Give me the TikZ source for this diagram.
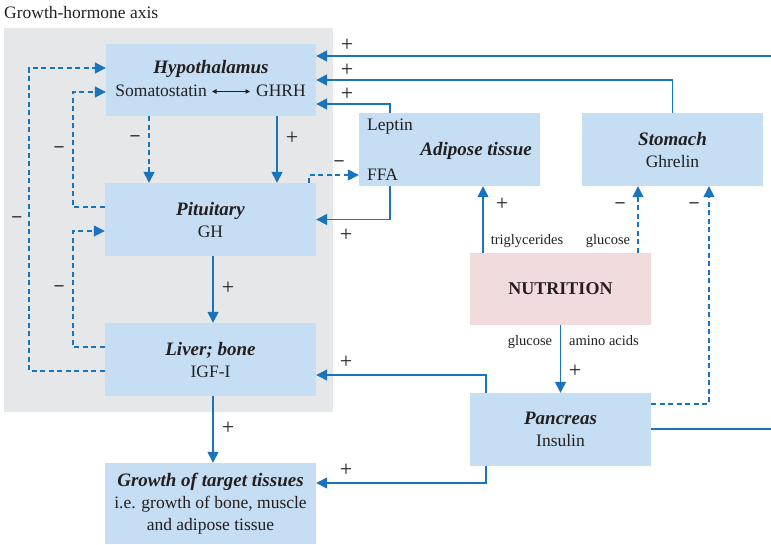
\documentclass[tikz,border=0pt]{standalone}
\usepackage{fontspec}
\setmainfont{Liberation Serif}
\usetikzlibrary{arrows.meta}
\definecolor{boxblue}{HTML}{C6DEF3}
\definecolor{panelgrey}{HTML}{E6E7E8}
\definecolor{nutpink}{HTML}{F2DBDC}
\definecolor{linkblue}{HTML}{1A74BD}
\definecolor{inktext}{HTML}{231F20}
\newcommand\txtmain{\fontsize{17.5}{22}\selectfont}
\newcommand\txttitle{\fontsize{19}{22}\selectfont\bfseries\itshape}
\newcommand\txtsmall{\fontsize{14.5}{17}\selectfont}
\begin{document}
\begin{tikzpicture}[x=1pt,y=-1pt,
  organ/.style={fill=boxblue, draw=none, inner sep=0pt, align=center,
                text=inktext, font=\txtmain},
  wire/.style={draw=linkblue, line width=1.4pt},
  arr/.style={wire, -{Triangle[length=11pt,width=11pt]}},
  darr/.style={arr, dash pattern=on 5pt off 3.5pt},
  plus/.style={inner sep=0pt, font=\fontsize{22}{22}\selectfont, text=inktext},
  minus/.style={inner sep=0pt, font=\fontsize{18}{22}\selectfont\bfseries, text=inktext},
  lbl/.style={inner sep=0pt, font=\txtsmall, text=inktext, anchor=base}]
\useasboundingbox (0,0) rectangle (771,545);

% growth-hormone axis panel
\node[anchor=base west, inner sep=0pt, font=\txtmain, text=inktext] (ttl) at (4,19) {Growth-hormone axis};
\fill[panelgrey] (4,28) rectangle (333,412);

% organ boxes
\node[organ, minimum width=210pt, minimum height=72pt] (hyp) at (211,80) {};
\node[inner sep=0pt, font=\txttitle, text=inktext] (hyptitle) at (211,69) {Hypothalamus};
\node[inner sep=0pt, font=\txtmain, text=inktext, anchor=base east] (som) at (207,97) {Somatostatin};
\node[inner sep=0pt, font=\txtmain, text=inktext, anchor=base west] (ghrh) at (256,97) {GHRH};
\draw[draw=inktext, line width=0.8pt, {Triangle[length=4.5pt,width=4.5pt]}-{Triangle[length=4.5pt,width=4.5pt]}]
  ([xshift=5pt,yshift=5.5pt]som.base east) -- ([xshift=-6pt,yshift=5.5pt]ghrh.base west);

\node[organ, minimum width=211pt, minimum height=73pt] (pit) at (210.5,219.5)
  {{\txttitle Pituitary}\\GH};
\node[organ, minimum width=211pt, minimum height=73pt] (liv) at (210.5,359.5)
  {{\txttitle Liver; bone}\\IGF-I};
\node[organ, minimum width=211pt, minimum height=81pt] (gro) at (210.5,503.5)
  {{\txttitle Growth of target tissues}\\i.e. growth of bone, muscle\\and adipose tissue};

\node[organ, minimum width=181pt, minimum height=73pt] (adi) at (449.5,149.5) {};
\node[inner sep=0pt, font=\txtmain, text=inktext, anchor=base west] (lep) at (367,131) {Leptin};
\node[inner sep=0pt, font=\txttitle, text=inktext, anchor=base east] (aditl) at (532,156) {Adipose tissue};
\node[inner sep=0pt, font=\txtmain, text=inktext, anchor=base west] (ffa) at (367,181) {FFA};

\node[organ, minimum width=181pt, minimum height=73pt] (sto) at (672.5,149.5)
  {{\txttitle Stomach}\\Ghrelin};
\node[organ, fill=nutpink, minimum width=181pt, minimum height=72pt] (nut) at (560.5,289)
  {\fontsize{18}{22}\selectfont\bfseries NUTRITION};
\node[organ, minimum width=181pt, minimum height=73pt] (pan) at (560.5,429.5)
  {{\txttitle Pancreas}\\Insulin};

% helper points for routing
\coordinate (rTop) at (771,56);
\coordinate (rPan) at (771,429);
\coordinate (lepX) at (390,104);
\coordinate (ffaD) at (309,175);
\coordinate (hpS) at (277,0);
\coordinate (hpD) at (149,0);
\coordinate (axX) at (213,0);
\coordinate (panX) at (486,375);
\coordinate (panG) at (486,483);
\coordinate (panD) at (709,404);
\coordinate (gluX) at (638,0);
\coordinate (triX) at (483,0);
\coordinate (fbOut) at (29,371);
\coordinate (fbOutT) at (0,68);
\coordinate (fbA) at (73,207);
\coordinate (fbAT) at (0,92);
\coordinate (fbB) at (73,347);
\coordinate (fbBT) at (0,231);

% stimulating connections
\draw[arr] (rTop) -- (rTop -| hyp.east);
\draw[arr] (sto.north) |- (hyp.east);
\draw[arr] (adi.north -| lepX) |- (hyp.east |- lepX);
\draw[arr] (adi.south -| lepX) |- (pit.east);
\draw[arr] (hyp.south -| hpS) -- (pit.north -| hpS);
\draw[arr] (pit.south -| axX) -- (liv.north -| axX);
\draw[arr] (liv.south -| axX) -- (gro.north -| axX);
\draw[arr] (pan.north -| panX) |- (liv.east |- panX);
\draw[arr] (pan.south -| panG) |- (gro.east |- panG);
\draw[linkblue, line width=1.4pt] (pan.east |- rPan) -- (rPan);
\draw[arr] (nut.north -| triX) -- (adi.south -| triX);
\draw[arr] (nut.south) -- (pan.north);

% inhibiting connections
\draw[darr] (pit.north -| ffaD) |- (adi.west |- ffaD);
\draw[darr] (hyp.south -| hpD) -- (pit.north -| hpD);
\draw[darr] (pan.east |- panD) -| (sto.south -| panD);
\draw[darr] (nut.north -| gluX) -- (sto.south -| gluX);
\draw[darr] (liv.west |- fbOut) -- (fbOut) |- (hyp.west |- fbOutT);
\draw[darr] (pit.west |- fbA) -- (fbA) |- (hyp.west |- fbAT);
\draw[darr] (liv.west |- fbB) -- (fbB) |- (pit.west |- fbBT);

% signs
\foreach \p/\q in {347/45, 347/70, 347/94, 346/235, 292/138, 228/288, 228/428,
                   346/362, 346/470, 502/204, 575/371}
  \node[plus] at (\p,\q) {+};
\foreach \p/\q in {339/163, 135/138, 694/205, 620/205, 17/219, 59/149, 59/288}
  \node[minus] at (\p,\q) {–};

% substance labels
\node[lbl] (tri) at (527,245) {triglycerides};
\node[lbl] (glu1) at (608,245) {glucose};
\node[lbl] (glu2) at (530,345) {glucose};
\node[lbl] (ami) at (604,345) {amino acids};
\end{tikzpicture}
\end{document}
